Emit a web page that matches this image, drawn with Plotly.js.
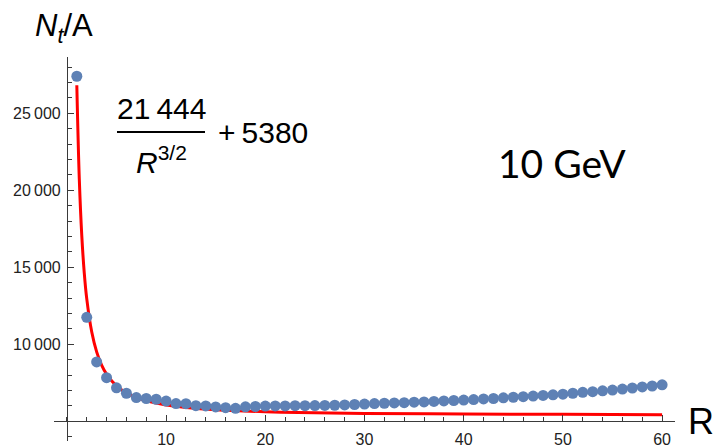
<!DOCTYPE html>
<html>
<head>
<meta charset="utf-8">
<script src="https://cdn.plot.ly/plotly-3.0.1.min.js"></script>
<style>html,body{margin:0;padding:0;background:#fff;}#chart{width:719px;height:448px;}</style>
</head>
<body>
<div id="chart"></div>
<script>
// Data points (R, N_t/A)
const R = [1,2,3,4,5,6,7,8,9,10,11,12,13,14,15,16,17,18,19,20,21,22,23,24,25,26,27,28,29,30,
           31,32,33,34,35,36,37,38,39,40,41,42,43,44,45,46,47,48,49,50,51,52,53,54,55,56,57,58,59,60];
const Nt = [27400,11750,8850,7830,7170,6820,6540,6480,6430,6310,6150,6140,6010,6000,5930,5880,5840,5940,5960,5990,
            6000,6000,6010,6010,6020,6030,6040,6060,6090,6120,6150,6170,6190,6210,6240,6260,6290,6320,6350,6380,
            6410,6450,6480,6520,6560,6600,6640,6680,6720,6760,6820,6880,6920,6980,7030,7090,7160,7230,7290,7370];
// Fit curve
const fitR = [1,1.25,1.5,1.75,2,2.5,3,3.5,4,5,6,7,8,10,12,15,20,25,30,40,50,60];
const fitN = [26820,20720,17050,14640,12960,10810,9510,8650,8060,7300,6840,6540,6330,6060,5900,5750,5620,5550,5510,5470,5450,5430];
// Ticks
const xTickVals = [10,20,30,40,50,60];
const xTickText = ['10','20','30','40','50','60'];
const yTickVals = [10000,15000,20000,25000];
const yTickText = ['10\u2009000','15\u2009000','20\u2009000','25\u2009000'];

const W = 719, H = 448;
const M = {l:54, r:44, t:57, b:7};
const PW = W - M.l - M.r, PH = H - M.t - M.b;
const px = x => (x - M.l) / PW;
const py = y => (H - M.b - y) / PH;

const xr = [-1.3, 61.3];
const yr = [3720, 28650];
const axisCol = '#3a3a3a';
const tickFont = {family: 'Liberation Sans, Arial, sans-serif', size: 16, color: '#222'};
const bigFont = {family: 'Liberation Sans, Arial, sans-serif', size: 30, color: '#000'};

const traces = [
  {x: fitR, y: fitN, type: 'scatter', mode: 'lines', line: {color: '#ff0000', width: 3, shape: 'spline'}, hoverinfo: 'skip'},
  {x: R, y: Nt, type: 'scatter', mode: 'markers', marker: {color: '#5e81b5', size: 11}}
];

const layout = {
  width: W, height: H,
  margin: M,
  paper_bgcolor: '#fff', plot_bgcolor: '#fff',
  showlegend: false,
  xaxis: {
    range: xr, anchor: 'free', position: (5000 - yr[0]) / (yr[1] - yr[0]),
    showline: true, linecolor: axisCol, linewidth: 1,
    showgrid: false, zeroline: false,
    tickmode: 'array', tickvals: xTickVals, ticktext: xTickText,
    ticks: 'inside', ticklen: 6, tickcolor: axisCol, tickwidth: 1,
    tickfont: tickFont, ticklabelstandoff: 4,
    minor: {tickmode: 'linear', tick0: 0, dtick: 2, ticks: 'inside', ticklen: 4, tickcolor: axisCol, showgrid: false}
  },
  yaxis: {
    range: yr, anchor: 'free', position: (0 - xr[0]) / (xr[1] - xr[0]),
    showline: true, linecolor: axisCol, linewidth: 1,
    showgrid: false, zeroline: false,
    tickmode: 'array', tickvals: yTickVals, ticktext: yTickText,
    ticks: 'inside', ticklen: 6, tickcolor: axisCol, tickwidth: 1,
    tickfont: tickFont, ticklabelstandoff: 3,
    minor: {tickmode: 'linear', tick0: 0, dtick: 1000, ticks: 'inside', ticklen: 4, tickcolor: axisCol, showgrid: false}
  },
  shapes: [
    {type: 'line', xref: 'paper', yref: 'paper', x0: px(117), x1: px(205), y0: py(132), y1: py(132), line: {color: '#000', width: 2}}
  ],
  annotations: [
    {xref: 'paper', yref: 'paper', x: px(33), y: py(28), xanchor: 'left', yanchor: 'middle', showarrow: false,
     text: '<i>N</i><sub><i>t</i></sub>/A', font: {family: 'Liberation Sans, Arial, sans-serif', size: 31, color: '#000'}},
    {xref: 'paper', yref: 'paper', x: px(701), y: py(421), xanchor: 'center', yanchor: 'middle', showarrow: false,
     text: 'R', font: {family: 'Liberation Sans, Arial, sans-serif', size: 36, color: '#000'}},
    {xref: 'paper', yref: 'paper', x: px(562), y: py(163), xanchor: 'center', yanchor: 'middle', showarrow: false,
     text: '10 GeV', font: {family: 'Lato, sans-serif', size: 39, color: '#000'}},
    {xref: 'paper', yref: 'paper', x: px(161), y: py(108), xanchor: 'center', yanchor: 'middle', showarrow: false,
     text: '21\u2009444', font: bigFont},
    {xref: 'paper', yref: 'paper', x: px(161), y: py(160), xanchor: 'center', yanchor: 'middle', showarrow: false,
     text: '<i>R</i><sup>3/2</sup>', font: bigFont},
    {xref: 'paper', yref: 'paper', x: px(216), y: py(132), xanchor: 'left', yanchor: 'middle', showarrow: false,
     text: '+\u20095380', font: bigFont}
  ]
};

Plotly.newPlot('chart', traces, layout, {staticPlot: true, displayModeBar: false});
</script>
</body>
</html>
